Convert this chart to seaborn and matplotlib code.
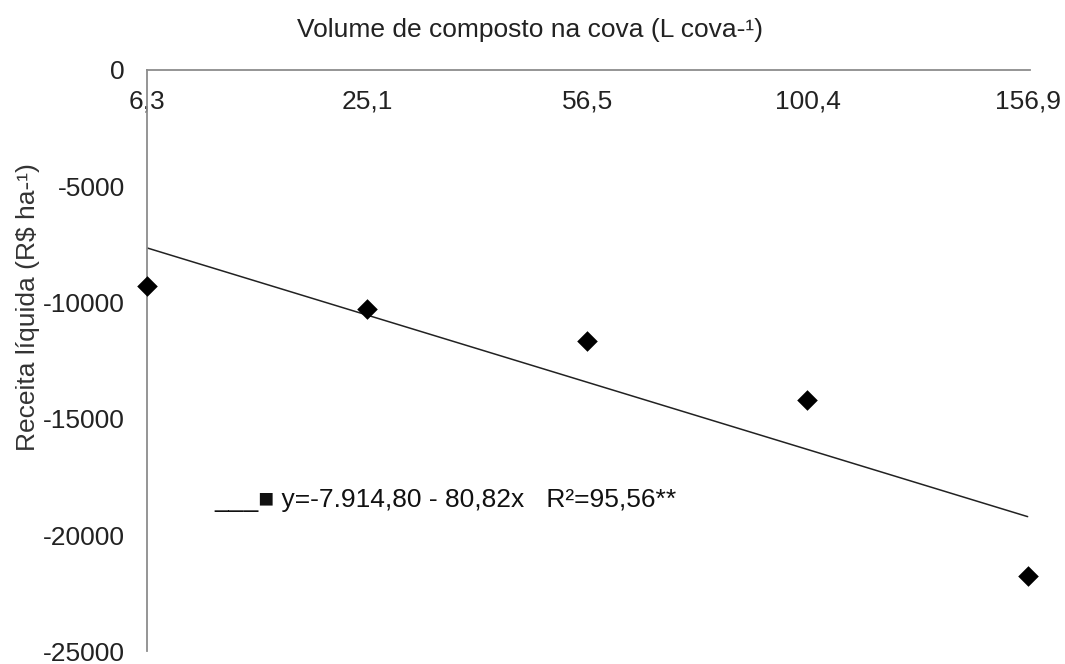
import numpy as np
import pandas as pd
import matplotlib
matplotlib.use("Agg")
import matplotlib.pyplot as plt
import seaborn as sns

# Data
volumes = ["6,3", "25,1", "56,5", "100,4", "156,9"]
receita = [-9270, -10260, -11670, -14190, -21750]
y_ticks = [0, -5000, -10000, -15000, -20000, -25000]

sns.set_theme(style="white")
plt.rcParams['font.family'] = ['Liberation Sans', 'DejaVu Sans']

FS = 19

pos = np.arange(len(volumes))
df = pd.DataFrame({"pos": pos, "receita": receita})
coef = np.polyfit(pos, receita, 1)
trend = pd.DataFrame({"pos": [pos[0], pos[-1]],
                      "fit": np.polyval(coef, [pos[0], pos[-1]])})

fig = plt.figure(figsize=(10.65, 6.64), dpi=100)
ax = fig.add_axes([0.138, 0.019, 0.967 - 0.138, 0.8946 - 0.019])

sns.lineplot(data=trend, x="pos", y="fit", color="#222222", linewidth=1.1, ax=ax)
sns.scatterplot(data=df, x="pos", y="receita", marker="D", color="black",
                s=110, edgecolor="black", linewidth=0, ax=ax, zorder=3, clip_on=False)

ax.set_xlim(0, 4.01)
ax.set_ylim(-25000, 0)
ax.set_yticks(y_ticks)
ax.set_yticklabels([str(v) for v in y_ticks])
ax.set_xticks(pos)
ax.set_xticklabels(volumes)
ax.xaxis.tick_top()
ax.tick_params(axis='x', which='both', length=0, pad=-14, labelsize=FS, colors='#222222')
ax.tick_params(axis='y', which='both', length=0, pad=16, labelsize=FS, colors='#222222')
for lab in ax.get_xticklabels():
    lab.set_verticalalignment('top')
ax.set_xlabel("")
ax.set_ylabel("")

for side in ["right", "bottom"]:
    ax.spines[side].set_visible(False)
for side in ["left", "top"]:
    ax.spines[side].set_color("#8c8c8c")
    ax.spines[side].set_linewidth(1.3)

fig.text(0.4977, 0.955, "Volume de composto na cova (L cova-¹)", ha="center", va="center",
         fontsize=FS, color="#222222")
fig.text(0.026, 0.537, "Receita líquida (R$ ha-¹)", ha="center", va="center",
         rotation=90, fontsize=FS, color="#333333")

fig.text(0.201, 0.247, "___■ y=-7.914,80 - 80,82x   R²=95,56**",
         ha="left", va="center", fontsize=FS, color="#111111")

fig.savefig("out.png", dpi=100)
